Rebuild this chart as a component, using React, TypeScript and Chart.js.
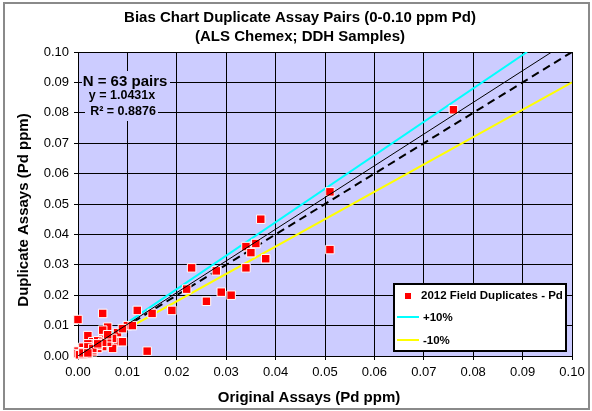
import React, { useEffect, useRef } from 'react';
import { Chart, registerables } from 'chart.js';

Chart.register(...registerables);

// Field duplicate pairs: original assay (x) vs duplicate assay (y), Pd ppm
const originalAssays = [
  0.076, 0.051, 0.037, 0.034, 0.036, 0.035, 0.038, 0.034, 0.028, 0.023,
  0.029, 0.031, 0.026, 0.051, 0.022, 0.019, 0.015, 0.012, 0.010, 0.011,
  0.005, 0.000, 0.006, 0.005, 0.002, 0.008, 0.005, 0.003, 0.003, 0.001,
  0.007, 0.008, 0.009, 0.005, 0.014, 0.000, 0.002, 0.000, 0.007, 0.001,
  0.003, 0.001, 0.002, 0.003, 0.0003, 0.007, 0.004, 0.002, 0.004, 0.006,
  0.001, 0.002, 0.003, 0.004, 0.006, 0.002, 0.005, 0.003, 0.001, 0.004,
  0.006, 0.009, 0.002,
];
const duplicateAssays = [
  0.081, 0.054, 0.045, 0.036, 0.037, 0.034, 0.032, 0.029, 0.028, 0.029,
  0.021, 0.020, 0.018, 0.035, 0.022, 0.015, 0.014, 0.015, 0.010, 0.010,
  0.014, 0.012, 0.0095, 0.0085, 0.0067, 0.0077, 0.0055, 0.0047, 0.0031, 0.0022,
  0.0036, 0.0047, 0.0047, 0.0031, 0.0016, 0.0016, 0.0006, 0.0008, 0.0025, 0.0029,
  0.0040, 0.0014, 0.0014, 0.0014, 0.0004, 0.0058, 0.0050, 0.0040, 0.0025, 0.0045,
  0.0005, 0.0020, 0.0020, 0.0035, 0.0060, 0.0030, 0.0045, 0.0025, 0.0010, 0.0040,
  0.0070, 0.0090, 0.0010,
];

// Reference lines (end points)
const plus10X = [0, 0.0909];
const plus10Y = [0, 0.1];
const minus10X = [0, 0.1];
const minus10Y = [0, 0.09];
const trendX = [0, 0.0959];
const trendY = [0, 0.1];
const oneToOneX = [0, 0.1];
const oneToOneY = [0, 0.1];

const tickValues = [0, 0.01, 0.02, 0.03, 0.04, 0.05, 0.06, 0.07, 0.08, 0.09, 0.1];
const tickLabels = ['0.00', '0.01', '0.02', '0.03', '0.04', '0.05', '0.06', '0.07', '0.08', '0.09', '0.10'];

const titleLines = ['Bias Chart Duplicate Assay Pairs (0-0.10 ppm Pd)', '(ALS Chemex; DDH Samples)'];
const xTitle = 'Original Assays (Pd ppm)';
const yTitle = 'Duplicate Assays (Pd ppm)';
const pairsText = 'N = 63 pairs';
const eqText = 'y = 1.0431x';
const r2Text = 'R² = 0.8876';
const legendLabels = ['2012 Field Duplicates - Pd', '+10%', '-10%'];

const FONT = "'Liberation Sans', Arial, sans-serif";

const toXY = (xs: number[], ys: number[]) => xs.map((x, i) => ({ x, y: ys[i] }));

const decor = {
  id: 'decor',
  beforeDraw(chart: any) {
    const { ctx, chartArea: a } = chart;
    ctx.save();
    ctx.fillStyle = '#ffffff';
    ctx.fillRect(0, 0, chart.width, chart.height);
    ctx.strokeStyle = '#8a8a8a';
    ctx.lineWidth = 2;
    ctx.strokeRect(4, 3, 585, 406);
    ctx.fillStyle = '#CCCCFF';
    ctx.fillRect(a.left, a.top, a.right - a.left, a.bottom - a.top);
    ctx.restore();
  },
  afterDraw(chart: any) {
    const { ctx } = chart;
    ctx.save();
    ctx.fillStyle = '#000';
    ctx.textAlign = 'center';
    ctx.textBaseline = 'middle';
    // main title
    ctx.font = `bold 15px ${FONT}`;
    ctx.fillText(titleLines[0], 300, 18);
    ctx.fillText(titleLines[1], 300, 37);
    // axis titles
    ctx.fillText(xTitle, 309, 398);
    ctx.save();
    ctx.translate(24, 210);
    ctx.rotate(-Math.PI / 2);
    ctx.fillText(yTitle, 0, 0);
    ctx.restore();

    // annotation with plot-colour background
    ctx.fillStyle = '#CCCCFF';
    ctx.fillRect(82, 71, 88, 20);
    ctx.fillRect(85, 88, 73, 33);
    ctx.fillStyle = '#000';
    ctx.font = `bold 15px ${FONT}`;
    ctx.fillText(pairsText, 125, 82);
    ctx.font = `bold 12.5px ${FONT}`;
    ctx.fillText(eqText, 122, 96);
    ctx.fillText(r2Text, 123, 112);

    // legend
    ctx.fillStyle = '#ffffff';
    ctx.fillRect(394, 284, 172, 67);
    ctx.strokeStyle = '#000';
    ctx.lineWidth = 2;
    ctx.strokeRect(394, 284, 172, 67);
    ctx.fillStyle = '#FF0000';
    ctx.fillRect(405, 293, 6, 6);
    ctx.lineWidth = 2;
    ctx.strokeStyle = '#00FFFF';
    ctx.beginPath();
    ctx.moveTo(397, 317);
    ctx.lineTo(419, 317);
    ctx.stroke();
    ctx.strokeStyle = '#FFFF00';
    ctx.beginPath();
    ctx.moveTo(397, 340);
    ctx.lineTo(419, 340);
    ctx.stroke();
    ctx.fillStyle = '#000';
    ctx.textAlign = 'left';
    ctx.font = `bold 11.5px ${FONT}`;
    ctx.fillText(legendLabels[0], 421, 296);
    ctx.fillText(legendLabels[1], 423, 318);
    ctx.fillText(legendLabels[2], 423, 341);
    ctx.restore();
  },
};

export default function App() {
  const ref = useRef<HTMLCanvasElement | null>(null);

  useEffect(() => {
    if (!ref.current) return;
    const axisCommon = (fit: (s: any) => void) => ({
      type: 'linear' as const,
      min: 0,
      max: 0.1,
      afterFit: fit,
      afterBuildTicks: (s: any) => {
        s.ticks = tickValues.map((v) => ({ value: v }));
      },
      ticks: {
        callback: (_v: any, i: number) => tickLabels[i],
        font: { family: FONT, size: 13 },
        color: '#000',
        padding: 5,
        maxRotation: 0,
        autoSkip: false,
      },
      grid: { color: '#000', lineWidth: 1, tickLength: 4, drawTicks: true },
      border: { color: '#000', width: 1 },
    });

    const chart = new Chart(ref.current, {
      type: 'scatter',
      data: {
        datasets: [
          {
            type: 'line',
            data: toXY(trendX, trendY),
            borderColor: '#000',
            borderWidth: 1,
            pointRadius: 0,
            fill: false,
          },
          {
            type: 'scatter',
            data: toXY(originalAssays, duplicateAssays),
            pointStyle: 'rect',
            pointRadius: 6,
            backgroundColor: '#FF0000',
            borderColor: '#ffffff',
            borderWidth: 1,
            clip: false,
          },
          {
            type: 'line',
            data: toXY(oneToOneX, oneToOneY),
            borderColor: '#000',
            borderWidth: 2,
            borderDash: [8, 5],
            pointRadius: 0,
            fill: false,
          },
          {
            type: 'line',
            data: toXY(plus10X, plus10Y),
            borderColor: '#00FFFF',
            borderWidth: 2,
            pointRadius: 0,
            fill: false,
          },
          {
            type: 'line',
            data: toXY(minus10X, minus10Y),
            borderColor: '#FFFF00',
            borderWidth: 2,
            pointRadius: 0,
            fill: false,
          },
        ] as any,
      },
      options: {
        responsive: false,
        animation: false,
        events: [],
        layout: { padding: { top: 52, right: 20, left: 0, bottom: 0 } },
        plugins: {
          legend: { display: false },
          title: { display: false },
          tooltip: { enabled: false },
        },
        scales: {
          x: axisCommon((s: any) => {
            s.height = 55;
          }),
          y: axisCommon((s: any) => {
            s.width = 78;
          }),
        } as any,
      },
      plugins: [decor],
    });
    return () => chart.destroy();
  }, []);

  return (
    <div style={{ position: 'absolute', left: 0, top: 0, width: 592, height: 411 }}>
      <canvas ref={ref} width={592} height={411} style={{ width: 592, height: 411, display: 'block' }} />
    </div>
  );
}
